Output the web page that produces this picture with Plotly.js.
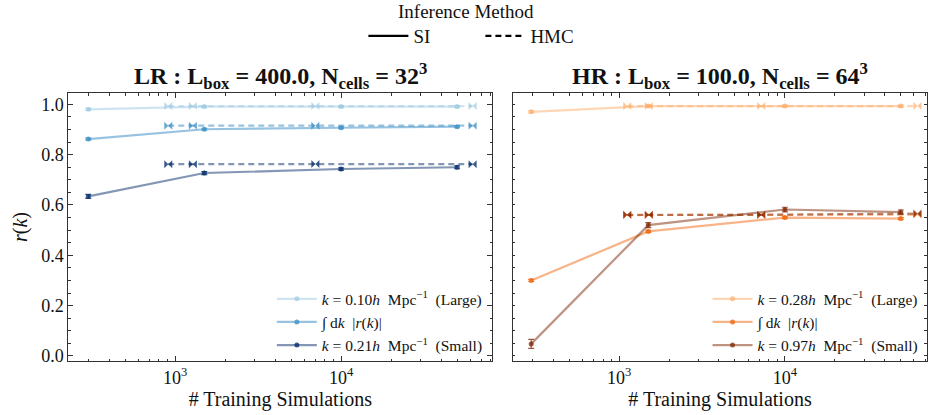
<!DOCTYPE html>
<html><head><meta charset="utf-8">
<script src="https://cdn.plot.ly/plotly-3.0.1.min.js"></script>
<style>body{margin:0;padding:0;background:#fff}#plot{width:931px;height:415px}</style>
</head><body><div id="plot"></div>
<script>
// ---------- data ----------
const xSI_LR  = [300, 1500, 10000, 50000];
const xHMC_LR = [910, 1280, 7000, 62000];
const xSI_HR  = [295, 1500, 10000, 50000];
const xHMC_HR = [1120, 1510, 7200, 63000];

const largeSI_LR  = [0.980, 0.991, 0.991, 0.991];
const largeHMC_LR = [0.993, 0.993, 0.993, 0.993];
const intSI_LR    = [0.862, 0.901, 0.907, 0.911];
const intHMC_LR   = [0.915, 0.915, 0.915, 0.915];
const smallSI_LR  = [0.634, 0.727, 0.743, 0.750];
const smallHMC_LR = [0.762, 0.762, 0.763, 0.762];
const errSmallSI_LR = [0.008, 0.006, 0.005, 0.006];

const largeSI_HR  = [0.970, 0.993, 0.993, 0.993];
const largeHMC_HR = [0.993, 0.993, 0.993, 0.993];
const intSI_HR    = [0.300, 0.495, 0.550, 0.546];
const intHMC_HR   = [0.560, 0.560, 0.560, 0.562];
const smallSI_HR  = [0.048, 0.520, 0.582, 0.572];
const smallHMC_HR = [0.561, 0.561, 0.561, 0.566];
const errSmallSI_HR = [0.018, 0.010, 0.009, 0.008];

const labelsLR = ['<i>k</i> = 0.10<i>h</i>  Mpc<sup>−1</sup>  (Large)', '∫ d<i>k</i>  |<i>r</i>(<i>k</i>)|', '<i>k</i> = 0.21<i>h</i>  Mpc<sup>−1</sup>  (Small)'];
const labelsHR = ['<i>k</i> = 0.28<i>h</i>  Mpc<sup>−1</sup>  (Large)', '∫ d<i>k</i>  |<i>r</i>(<i>k</i>)|', '<i>k</i> = 0.97<i>h</i>  Mpc<sup>−1</sup>  (Small)'];
const methods = ['SI', 'HMC'];
const methodTitle = 'Inference Method';
const titleLR = '<b>LR : L<sub>box</sub> = 400.0, N<sub>cells</sub> = 32<sup>3</sup></b>';
const titleHR = '<b>HR : L<sub>box</sub> = 100.0, N<sub>cells</sub> = 64<sup>3</sup></b>';

// ---------- styles ----------
const blues   = {line:['rgba(158,202,225,0.5)','rgba(66,146,198,0.55)','rgba(8,48,107,0.5)'],
                 mark:['rgba(158,202,225,0.7)','rgba(66,146,198,0.8)','rgba(8,48,107,0.8)']};
const oranges = {line:['rgba(253,174,107,0.5)','rgba(241,105,19,0.5)','rgba(127,39,4,0.5)'],
                 mark:['rgba(253,174,107,0.7)','rgba(241,105,19,0.8)','rgba(127,39,4,0.75)']};

const F = 'Liberation Serif, DejaVu Serif, serif';
const traces = [];

function addPanel(xa, ya, leg, xs, xh, sets, labels, pal){
  sets.forEach((s, i) => {
    traces.push({x: xs, y: s.si, xaxis: xa, yaxis: ya, type:'scatter', mode:'lines+markers',
      name: labels[i], legend: leg, showlegend: true,
      line:{color: pal.line[i], width: 2.2},
      marker:{color: pal.mark[i], size: 5, symbol:'circle'},
      error_y:{type:'data', array: s.err, visible:true, color: pal.mark[i], thickness:1.2, width:3}});
    traces.push({x: xh, y: s.hmc, xaxis: xa, yaxis: ya, type:'scatter', mode:'lines+markers',
      name: labels[i]+' HMC', legend: leg, showlegend: false,
      line:{color: pal.line[i], width: 2.2, dash:'6px,4px'},
      marker:{color: pal.mark[i], size: 8, symbol:'bowtie'}});
  });
}
const zeros = [0.004,0.004,0.004,0.004];
addPanel('x','y','legend2', xSI_LR, xHMC_LR, [
  {si: largeSI_LR, hmc: largeHMC_LR, err: zeros},
  {si: intSI_LR, hmc: intHMC_LR, err: zeros},
  {si: smallSI_LR, hmc: smallHMC_LR, err: errSmallSI_LR}], labelsLR, blues);
addPanel('x2','y2','legend3', xSI_HR, xHMC_HR, [
  {si: largeSI_HR, hmc: largeHMC_HR, err: zeros},
  {si: intSI_HR, hmc: intHMC_HR, err: zeros},
  {si: smallSI_HR, hmc: smallHMC_HR, err: errSmallSI_HR}], labelsHR, oranges);

// method legend dummies
traces.push({x:[null], y:[null], xaxis:'x', yaxis:'y', mode:'lines', name: methods[0], legend:'legend',
  line:{color:'#000', width:2.2}});
traces.push({x:[null], y:[null], xaxis:'x', yaxis:'y', mode:'lines', name: methods[1], legend:'legend',
  line:{color:'#000', width:2.2, dash:'6px,4px'}});

const minorX = [200,300,400,500,600,700,800,900,2000,3000,4000,5000,6000,7000,8000,9000,20000,30000,40000,50000,60000,70000,80000,90000];
function xAxis(domain, range){
  return {type:'log', domain: domain, range: range, anchor: domain[0] < 0.5 ? 'y' : 'y2',
    showgrid:false, zeroline:false, showline:true, linecolor:'#333', linewidth:1, mirror:'allticks',
    ticks:'inside', ticklen:5, tickwidth:1, tickcolor:'#333',
    tickmode:'array', tickvals:[1000,10000], ticktext:['10<sup>3</sup>','10<sup>4</sup>'],
    tickfont:{family:F, size:18, color:'#111'},
    minor:{tickmode:'array', tickvals: minorX, ticks:'inside', ticklen:2.5, tickwidth:1, tickcolor:'#333'},
    title:{text:'# Training Simulations', font:{family:F, size:20, color:'#111'}, standoff:4}};
}
function yAxis(anchor, showLabels){
  return {domain:[0.1301, 0.7759], range:[-0.02, 1.045], anchor: anchor,
    showgrid:false, zeroline:false, showline:true, linecolor:'#333', linewidth:1, mirror:'allticks',
    ticks:'inside', ticklen:5, tickwidth:1, tickcolor:'#333',
    tickmode:'array', tickvals:[0,0.2,0.4,0.6,0.8,1.0], ticktext: showLabels ? ['0.0','0.2','0.4','0.6','0.8','1.0'] : ['','','','','',''],
    showticklabels: showLabels,
    tickfont:{family:F, size:18, color:'#111'},
    minor:{dtick:0.05, ticks:'inside', ticklen:2.5, tickwidth:1, tickcolor:'#333'}};
}

const layout = {
  width:931, height:415, margin:{l:0, r:0, t:0, b:0},
  paper_bgcolor:'#fff', plot_bgcolor:'#fff',
  font:{family:F, color:'#111'},
  xaxis: xAxis([0.0734, 0.5288], [2.357, 4.911]),
  yaxis: Object.assign(yAxis('x', true), {title:{text:'<i>r</i>(<i>k</i>)', font:{family:F, size:20, color:'#111'}, standoff:8}}),
  xaxis2: xAxis([0.551, 0.9957], [2.360, 4.857]),
  yaxis2: yAxis('x2', false),
  legend:{orientation:'h', x:0.516, xanchor:'center', y:0.913, yanchor:'middle',
    font:{family:F, size:19, color:'#111'}, bgcolor:'rgba(0,0,0,0)', itemwidth:40, entrywidth:62, tracegroupgap:0},
  legend2:{x:0.524, xanchor:'right', y:0.32, yanchor:'top', font:{family:F, size:15.5, color:'#111'},
    bgcolor:'rgba(0,0,0,0)', tracegroupgap:0, itemwidth:40},
  legend3:{x:0.992, xanchor:'right', y:0.32, yanchor:'top', font:{family:F, size:15.5, color:'#111'},
    bgcolor:'rgba(0,0,0,0)', tracegroupgap:0, itemwidth:40},
  annotations:[
    {text: methodTitle, xref:'paper', yref:'paper', x:0.5, y:(415-11)/415, xanchor:'center', yanchor:'middle', showarrow:false, font:{family:F, size:19, color:'#111'}},
    {text: titleLR, xref:'paper', yref:'paper', x:(0.0734+0.5288)/2, y:0.817, xanchor:'center', yanchor:'middle', showarrow:false, font:{family:F, size:24, color:'#111'}},
    {text: titleHR, xref:'paper', yref:'paper', x:(0.551+0.9957)/2, y:0.817, xanchor:'center', yanchor:'middle', showarrow:false, font:{family:F, size:24, color:'#111'}}
  ]
};
Plotly.newPlot('plot', traces, layout, {displayModeBar:false, staticPlot:true});
</script></body></html>
